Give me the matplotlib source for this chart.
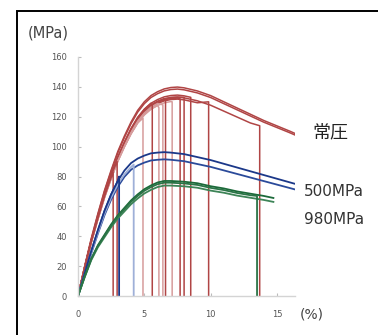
import numpy as np
import matplotlib.pyplot as plt
from matplotlib.patches import Rectangle

plt.rcParams['font.family'] = ['DejaVu Sans', 'Noto Sans CJK JP']

# stress-strain curves: strain (%), stress (MPa)
red_strain = [0, 0.5, 1, 1.5, 2, 2.5, 3, 3.5, 4, 4.5, 5, 5.5, 6, 6.5, 7, 7.5, 8, 9, 10, 11, 12, 13, 14, 15, 16, 16.4]
red_stress = [0, 19, 37, 53, 68, 81, 93, 103, 112, 119.5, 125, 129, 131.5, 133.3, 134.2, 134.5, 134, 132, 129, 125, 121, 117, 113, 109.5, 106, 104.5]
# specimen factor on the base curve, strain and stress at break (None = no break in range)
red_scale = [1.04, 1.03, 0.99, 0.98, 1.0, 0.99, 0.985, 0.97, 0.99, 0.98, 0.97, 1.0, 0.97, 1.0, 0.98]
red_break = [None, None, 13.7, 9.85, 8.5, 8.0, 7.7, 7.1, 6.6, 6.4, 6.1, 5.6, 4.9, 2.95, 2.65]
red_break_stress = [None, None, 114, 130, 133, 133, 132, 130, 131, 128, 126, 128, 119, 90, 83]

blue_strain = [0, 0.5, 1, 1.5, 2, 2.5, 3, 3.5, 4, 4.5, 5, 5.5, 6, 6.5, 7, 8, 9, 10, 11, 12, 13, 14, 15, 16, 16.4]
blue_stress = [0, 15, 30, 44, 57, 68, 77, 84, 89, 92, 94, 95.5, 96, 96.3, 96, 95, 93, 91, 88.5, 86, 83.5, 81, 78.5, 76, 75]
blue_scale = [1.0, 0.95, 0.97, 1.0]
blue_break = [None, None, 4.2, 3.1]
blue_break_stress = [None, None, 88, 80]

green_strain = [0, 0.5, 1, 1.5, 2, 2.5, 3, 3.5, 4, 4.5, 5, 5.5, 6, 6.5, 7, 8, 9, 10, 11, 12, 13, 14, 14.8]
green_stress = [0, 13, 25, 34, 41, 48, 54, 59, 64, 68, 71.5, 74, 76, 77, 77, 76.5, 75.5, 73.5, 72, 70, 68.5, 67, 65.5]
green_scale = [1.0, 0.96, 0.985]
green_break = [None, None, 13.5]
green_break_stress = [None, None, 67]

group_labels = ['常圧', '500MPa', '980MPa']
x_ticks = [0, 5, 10, 15]
y_ticks = [0, 20, 40, 60, 80, 100, 120, 140, 160]


def draw_group(ax, strain, stress, scales, breaks, break_stress, colors, lw=1.1):
    strain = np.asarray(strain)
    stress = np.asarray(stress)
    for s, b, bs, c in zip(scales, breaks, break_stress, colors):
        if b is None:
            ax.plot(strain, stress * s, color=c, lw=lw, solid_capstyle='butt')
            continue
        keep = strain < b
        xs = list(strain[keep]) + [b, b]
        ys = list(stress[keep] * s) + [bs, 0]
        ax.plot(xs, ys, color=c, lw=lw, solid_capstyle='butt')


fig = plt.figure(figsize=(3.78, 3.35), dpi=100)
ax = fig.add_axes([78 / 378, 1 - 296 / 335, 217.5 / 378, 239 / 335])

dark_red, light_red = '#b04545', '#d69c9c'
red_shade = [dark_red, dark_red, dark_red, dark_red, dark_red, dark_red, dark_red,
             light_red, dark_red, light_red, light_red, dark_red, light_red, dark_red, dark_red]
draw_group(ax, red_strain, red_stress, red_scale, red_break, red_break_stress, red_shade, lw=1.1)
draw_group(ax, blue_strain, blue_stress, blue_scale, blue_break, blue_break_stress,
           ['#1b3889', '#2a4a9a', '#9fb0d8', '#1b3889'], lw=1.3)
draw_group(ax, green_strain, green_stress, green_scale, green_break, green_break_stress,
           ['#1c6a3a', '#3d8457', '#2a7446'], lw=1.3)

ax.set_xlim(0, 16.4)
ax.set_ylim(0, 160)
ax.set_xticks(x_ticks)
ax.set_yticks(y_ticks)
for side in ['top', 'right']:
    ax.spines[side].set_visible(False)
for side in ['left', 'bottom']:
    ax.spines[side].set_color('#d4d4d4')
    ax.spines[side].set_linewidth(1.0)
ax.tick_params(direction='in', length=2, color='#bbbbbb', labelsize=6, labelcolor='#555555', pad=8)
ax.tick_params(axis='x', pad=10)
ax.patch.set_alpha(0)

fig.text(28 / 378, 1 - 33 / 335, '(MPa)', fontsize=10.5, color='#444444', va='center')
fig.text(300 / 378, 1 - 314 / 335, '(%)', fontsize=10, color='#444444', va='center')
fig.text(312 / 378, 1 - 132 / 335, group_labels[0], fontsize=13, color='#222222', va='center')
fig.text(304 / 378, 1 - 192 / 335, group_labels[1], fontsize=11, color='#333333', va='center')
fig.text(304 / 378, 1 - 219 / 335, group_labels[2], fontsize=11, color='#333333', va='center')

# outer frame, only the top and left edges are inside the picture
fig.patches.append(Rectangle((17 / 378, -0.2), 1.2, 1.2 - 11 / 335, transform=fig.transFigure,
                             fill=False, edgecolor='black', lw=1.4))

fig.savefig('out.png', dpi=100)
